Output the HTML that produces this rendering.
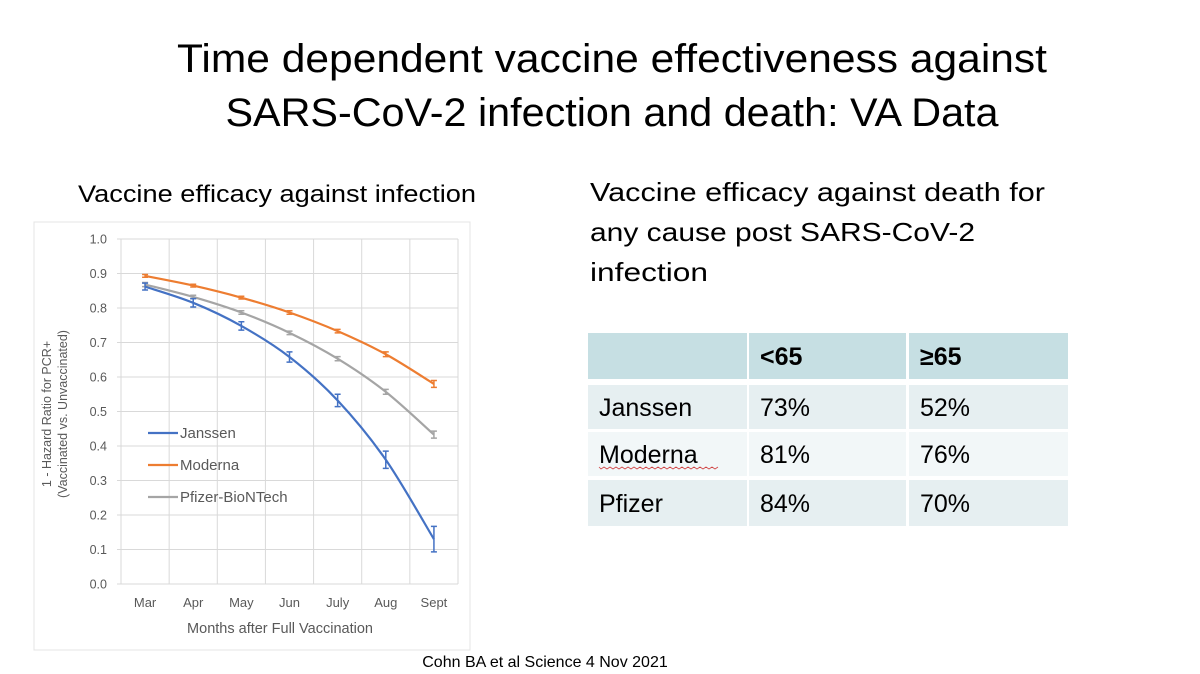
<!DOCTYPE html>
<html><head><meta charset="utf-8"><style>
html,body{margin:0;padding:0;background:#fff}
svg{display:block}
text{font-family:"Liberation Sans",sans-serif}
</style></head><body>
<svg id="s" width="1200" height="674" viewBox="0 0 1200 674" xmlns="http://www.w3.org/2000/svg">
<text x="612" y="72" font-size="40" text-anchor="middle" textLength="870" lengthAdjust="spacingAndGlyphs">Time dependent vaccine effectiveness against</text>
<text x="612" y="126" font-size="40" text-anchor="middle" textLength="773" lengthAdjust="spacingAndGlyphs">SARS-CoV-2 infection and death: VA Data</text>
<text x="78" y="202" font-size="24" textLength="398" lengthAdjust="spacingAndGlyphs">Vaccine efficacy against infection</text>
<text x="590" y="201" font-size="26" textLength="455" lengthAdjust="spacingAndGlyphs">Vaccine efficacy against death for</text>
<text x="590" y="241" font-size="26" textLength="385" lengthAdjust="spacingAndGlyphs">any cause post SARS-CoV-2</text>
<text x="590" y="281" font-size="26" textLength="118" lengthAdjust="spacingAndGlyphs">infection</text>
<rect x="34" y="222" width="436" height="428" fill="none" stroke="#e4e4e4"/>
<g id="chart"></g>
<g id="tbl"></g>
<text x="545" y="667" font-size="16" text-anchor="middle">Cohn BA et al Science 4 Nov 2021</text>
</svg>
<script>
const months=["Mar","Apr","May","Jun","July","Aug","Sept"];
const yTicks=[0,0.1,0.2,0.3,0.4,0.5,0.6,0.7,0.8,0.9,1.0];
const janssen=[0.862,0.815,0.748,0.658,0.532,0.36,0.13];
const janssenErr=[0.01,0.012,0.012,0.015,0.018,0.025,0.037];
const moderna=[0.893,0.865,0.83,0.787,0.733,0.666,0.58];
const modernaErr=[0.004,0.004,0.004,0.005,0.005,0.007,0.01];
const pfizer=[0.868,0.832,0.787,0.728,0.653,0.557,0.433];
const pfizerErr=[0.006,0.005,0.005,0.005,0.006,0.007,0.01];
const tHeaders=["","<65","≥65"];
const tRows=["Janssen","Moderna","Pfizer"];
const tUnder=[73,81,84];
const tOver=[52,76,70];

const NS="http://www.w3.org/2000/svg";
function mk(t,a,p){const e=document.createElementNS(NS,t);for(const k in a)e.setAttribute(k,a[k]);p.appendChild(e);return e;}
const g=document.getElementById('chart');
const X0=121,X1=458,Y0=584,Y1=239;
const step=(X1-X0)/months.length;
const xS=i=>X0+step*(i+0.5);
const yS=v=>Y0-(v-0)/(1.0-0)*(Y0-Y1);
yTicks.forEach(t=>{
 const l=mk('line',{x1:X0-4,x2:X1,y1:yS(t),y2:yS(t),stroke:'#d9d9d9','stroke-width':1},g);
 
 
 const tx=mk('text',{x:X0-14,y:yS(t)+4.5,'font-size':12.5,fill:'#595959','text-anchor':'end'},g);
 tx.textContent=t.toFixed(1);
 
 
});
for(let i=0;i<=months.length;i++){
 const l=mk('line',{x1:X0+step*i,x2:X0+step*i,y1:Y1,y2:Y0,stroke:'#d9d9d9','stroke-width':1},g);
 
 
}
months.forEach((m,i)=>{
 const tx=mk('text',{x:xS(i),y:607,'font-size':13,fill:'#595959','text-anchor':'middle'},g);
 tx.textContent=m;
 
 
});
const xt=mk('text',{x:280,y:633,'font-size':14.5,fill:'#595959','text-anchor':'middle'},g);
xt.textContent='Months after Full Vaccination';


const yt1=mk('text',{x:0,y:0,'font-size':12.5,fill:'#595959','text-anchor':'middle',transform:'translate(51,414) rotate(-90)'},g);
yt1.textContent='1 - Hazard Ratio for PCR+';


const yt2=mk('text',{x:0,y:0,'font-size':12.5,fill:'#595959','text-anchor':'middle',transform:'translate(67,414) rotate(-90)'},g);
yt2.textContent='(Vaccinated vs. Unvaccinated)';



function smooth(vals){
 const p=vals.map((v,i)=>[xS(i),yS(v)]);
 let d='M'+p[0][0]+','+p[0][1];
 for(let i=0;i<p.length-1;i++){
  const p0=p[i-1]||p[i],p1=p[i],p2=p[i+1],p3=p[i+2]||p[i+1];
  const c1=[p1[0]+(p2[0]-p0[0])/6,p1[1]+(p2[1]-p0[1])/6];
  const c2=[p2[0]-(p3[0]-p1[0])/6,p2[1]-(p3[1]-p1[1])/6];
  d+=` C${c1[0]},${c1[1]} ${c2[0]},${c2[1]} ${p2[0]},${p2[1]}`;
 }
 return d;
}
function series(vals,errs,color,name){
 const pth=mk('path',{d:smooth(vals),fill:'none',stroke:color,'stroke-width':2.2},g);
 
 
 vals.forEach((v,i)=>{
  const x=xS(i),a=yS(v+errs[i]),b=yS(v-errs[i]);
  const e=mk('path',{d:`M${x},${a}V${b}M${x-3},${a}H${x+3}M${x-3},${b}H${x+3}`,stroke:color,'stroke-width':1.5,fill:'none'},g);
  
  
 });
}
series(pfizer,pfizerErr,'#a5a5a5','pfizer');
series(moderna,modernaErr,'#ed7d31','moderna');
series(janssen,janssenErr,'#4472c4','janssen');
[['Janssen','#4472c4',433],['Moderna','#ed7d31',465],['Pfizer-BioNTech','#a5a5a5',497]].forEach(([n,c,y])=>{
 const l=mk('line',{x1:148,x2:178,y1:y,y2:y,stroke:c,'stroke-width':2.2},g);
 
 
 const t=mk('text',{x:180,y:y+5,'font-size':15,fill:'#595959'},g);
 t.textContent=n;
 
 
});

const tb=document.getElementById('tbl');
const colX=[588,749,909],colW=[159,157,159];
const rowY=[333,385,432,480],rowH=[46,44,44,46];
const fills=['#c6dfe3','#e6eff1','#f2f7f8','#e6eff1'];
for(let r=0;r<4;r++){
 for(let c=0;c<3;c++){
  const rc=mk('rect',{x:colX[c],y:rowY[r],width:colW[c],height:rowH[r],fill:fills[r]},tb);
  
  
  let txt;
  if(r===0)txt=tHeaders[c];
  else txt=c===0?tRows[r-1]:(c===1?tUnder[r-1]:tOver[r-1])+'%';
  if(!txt)continue;
  const t=mk('text',{x:colX[c]+11,y:rowY[r]+rowH[r]/2+9,'font-size':25,'font-weight':r===0?'bold':'normal',fill:'#000'},tb);
  t.textContent=txt;
  
  
 }
}
const sq=mk('path',{d:'M599,467 '+Array.from({length:40},(_,i)=>`L${601+i*3},${i%2?467:469}`).join(' '),stroke:'#d04040','stroke-width':0.8,fill:'none'},tb);


</script>
</body></html>
